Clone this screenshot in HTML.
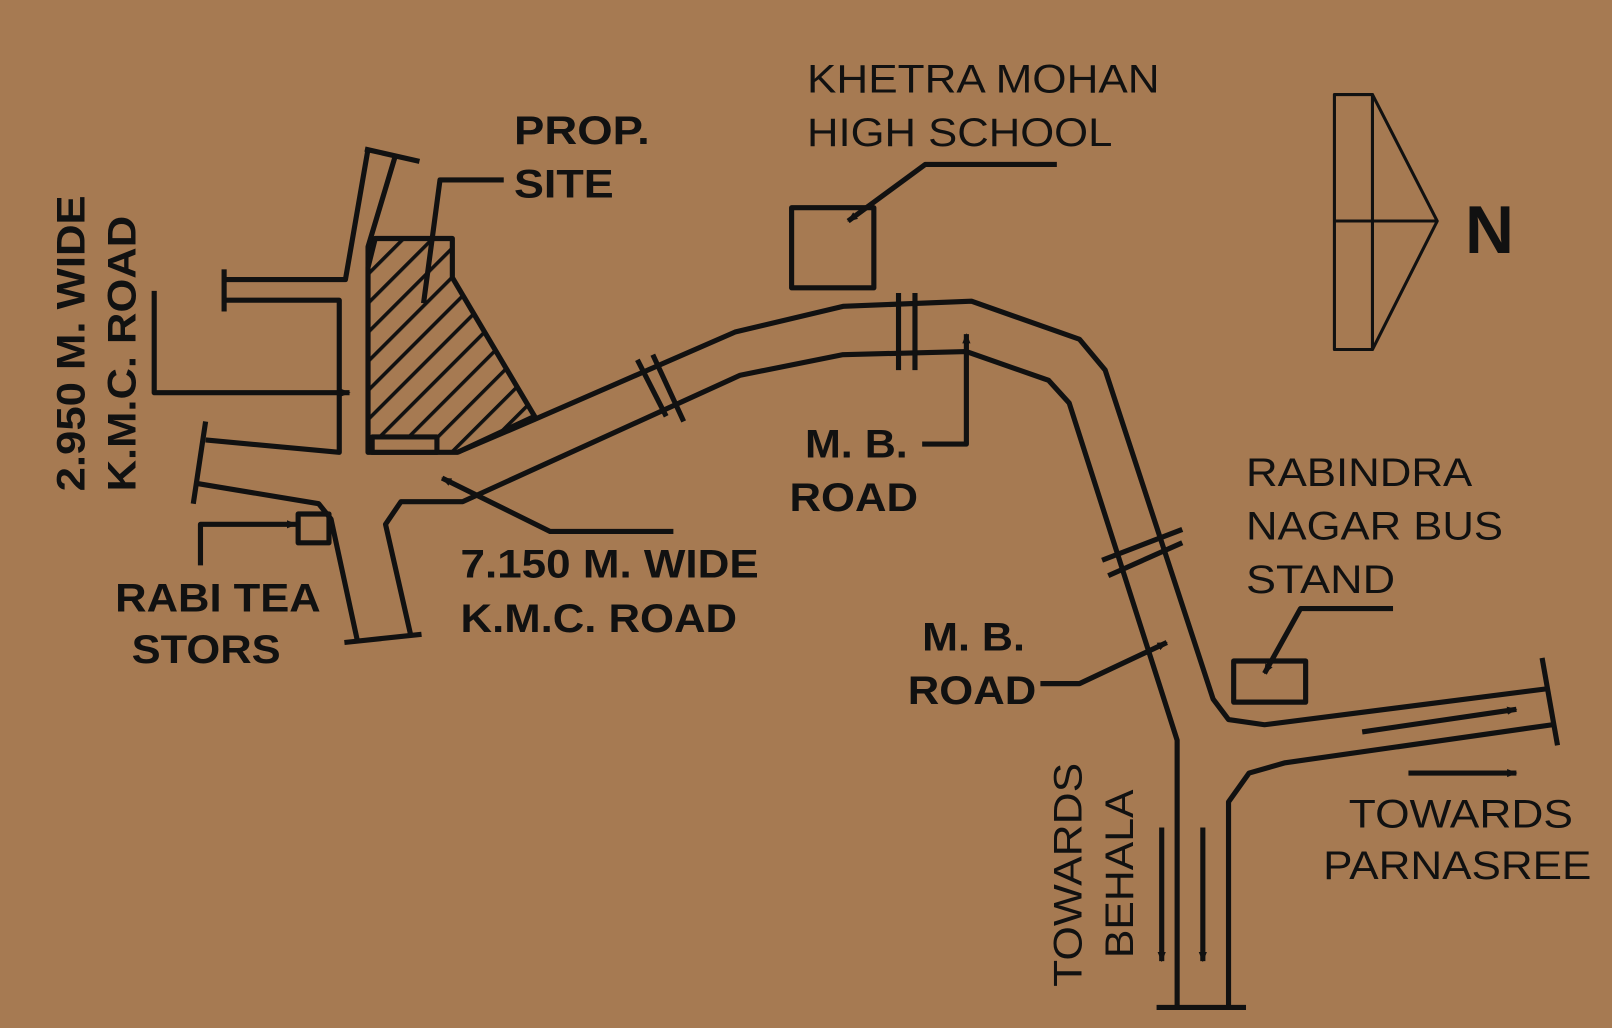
<!DOCTYPE html>
<html><head><meta charset="utf-8"><style>
html,body{margin:0;padding:0;background:#A67A52;}
svg{display:block;}
text{font-family:"Liberation Sans",sans-serif;fill:#111;}
.b{font-weight:bold;}
</style></head><body>
<svg width="1612" height="1028" viewBox="0 0 1568 1000" preserveAspectRatio="none" xmlns="http://www.w3.org/2000/svg">
<defs>
<pattern id="h" patternUnits="userSpaceOnUse" width="20" height="20" patternTransform="rotate(45)">
<rect width="20" height="20" fill="#A67A52"/><line x1="0" y1="0" x2="0" y2="20" stroke="#111" stroke-width="7"/>
</pattern>
<marker id="a" markerWidth="10" markerHeight="10" refX="9" refY="5" orient="auto" markerUnits="userSpaceOnUse"><path d="M0,1 L10,5 L0,9 Z" fill="#111"/></marker>
</defs>
<rect width="1568" height="1000" fill="#A67A52"/>
<g fill="none" stroke="#111" stroke-width="5" stroke-linejoin="round">
<polyline points="358,145 336,272 220,272"/>
<polyline points="220,292 330,292 330,440 200,428"/>
<polyline points="385,150 358,240 358,440"/>
<polyline points="190,470 310,490 322,505 348,625"/>
<polyline points="400,620 375,510 390,488 450,488 720,365 820,345 940,342 1020,370 1040,392 1145,720 1145,978"/>
<polyline points="445,440 520,408 715,323 820,298 945,293 1050,330 1075,360 1180,680 1195,700 1230,705 1505,670"/>
<polyline points="1195,978 1195,780 1215,752 1250,742 1510,705"/>
<line x1="355" y1="145" x2="408" y2="157"/>
<line x1="218" y1="262" x2="218" y2="303"/>
<line x1="200" y1="410" x2="188" y2="490"/>
<line x1="335" y1="625" x2="410" y2="617"/>
<line x1="1125" y1="980" x2="1212" y2="980"/>
<line x1="1500" y1="640" x2="1515" y2="725"/>
<line x1="620" y1="350" x2="648" y2="405"/><line x1="635" y1="345" x2="665" y2="410"/>
<line x1="874" y1="285" x2="874" y2="360"/><line x1="890" y1="285" x2="890" y2="360"/>
<line x1="1072" y1="545" x2="1150" y2="515"/><line x1="1078" y1="560" x2="1150" y2="528"/>
<polygon points="365,232 440,232 440,270 520,405 445,440 358,440 358,260" fill="url(#h)"/>
<rect x="362" y="425" width="63" height="15" fill="#A67A52"/>
<rect x="770" y="202" width="80" height="78"/>
<rect x="1200" y="643" width="70" height="40"/>
<rect x="290" y="500" width="30" height="28"/>
<rect x="1298" y="92" width="37" height="248" stroke-width="3"/>
<polyline points="1335,92 1398,215 1335,340" stroke-width="3"/>
<line x1="1298" y1="215" x2="1398" y2="215" stroke-width="3"/>
<polyline points="490,175 428,175 412,295"/>
<polyline points="1028,160 900,160 825,215" marker-end="url(#a)"/>
<polyline points="1355,592 1265,592 1230,655" marker-end="url(#a)"/>
<polyline points="195,550 195,510 288,510" marker-end="url(#a)"/>
<polyline points="150,283 150,382 340,382" marker-end="url(#a)"/>
<polyline points="897,432 940,432 940,325" marker-end="url(#a)"/>
<polyline points="655,517 535,517 430,465" marker-end="url(#a)"/>
<polyline points="1012,665 1050,665 1135,625" marker-end="url(#a)"/>
<line x1="1130" y1="805" x2="1130" y2="935" marker-end="url(#a)"/>
<line x1="1170" y1="805" x2="1170" y2="935" marker-end="url(#a)"/>
<line x1="1325" y1="712" x2="1475" y2="690" marker-end="url(#a)"/>
<line x1="1370" y1="752" x2="1475" y2="752" marker-end="url(#a)"/>
</g>
<g font-size="39" lengthAdjust="spacingAndGlyphs">
<text x="500" y="140" class="b" textLength="132" lengthAdjust="spacingAndGlyphs">PROP.</text>
<text x="500" y="192" class="b" textLength="97" lengthAdjust="spacingAndGlyphs">SITE</text>
<text x="785" y="90" textLength="343" lengthAdjust="spacingAndGlyphs">KHETRA MOHAN</text>
<text x="785" y="142" textLength="297" lengthAdjust="spacingAndGlyphs">HIGH SCHOOL</text>
<text x="783" y="445" class="b" textLength="100" lengthAdjust="spacingAndGlyphs">M. B.</text>
<text x="768" y="497" class="b" textLength="125" lengthAdjust="spacingAndGlyphs">ROAD</text>
<text x="448" y="562" class="b" textLength="290" lengthAdjust="spacingAndGlyphs">7.150 M. WIDE</text>
<text x="448" y="615" class="b" textLength="269" lengthAdjust="spacingAndGlyphs">K.M.C. ROAD</text>
<text x="112" y="595" class="b" textLength="200" lengthAdjust="spacingAndGlyphs">RABI TEA</text>
<text x="128" y="645" class="b" textLength="145" lengthAdjust="spacingAndGlyphs">STORS</text>
<text x="897" y="633" class="b" textLength="100" lengthAdjust="spacingAndGlyphs">M. B.</text>
<text x="883" y="685" class="b" textLength="125" lengthAdjust="spacingAndGlyphs">ROAD</text>
<text x="1212" y="473" textLength="220" lengthAdjust="spacingAndGlyphs">RABINDRA</text>
<text x="1212" y="525" textLength="250" lengthAdjust="spacingAndGlyphs">NAGAR BUS</text>
<text x="1212" y="577" textLength="145" lengthAdjust="spacingAndGlyphs">STAND</text>
<text x="1312" y="805" textLength="218" lengthAdjust="spacingAndGlyphs">TOWARDS</text>
<text x="1287" y="855" textLength="261" lengthAdjust="spacingAndGlyphs">PARNASREE</text>
<text transform="translate(82,478) rotate(-90)" class="b" textLength="288" lengthAdjust="spacingAndGlyphs">2.950 M. WIDE</text>
<text transform="translate(132,478) rotate(-90)" class="b" textLength="268" lengthAdjust="spacingAndGlyphs">K.M.C. ROAD</text>
<text transform="translate(1052,960) rotate(-90)" textLength="218" lengthAdjust="spacingAndGlyphs">TOWARDS</text>
<text transform="translate(1102,932) rotate(-90)" textLength="164" lengthAdjust="spacingAndGlyphs">BEHALA</text>
</g>
<text x="1425" y="246" font-size="66" class="b">N</text>
</svg>
</body></html>
